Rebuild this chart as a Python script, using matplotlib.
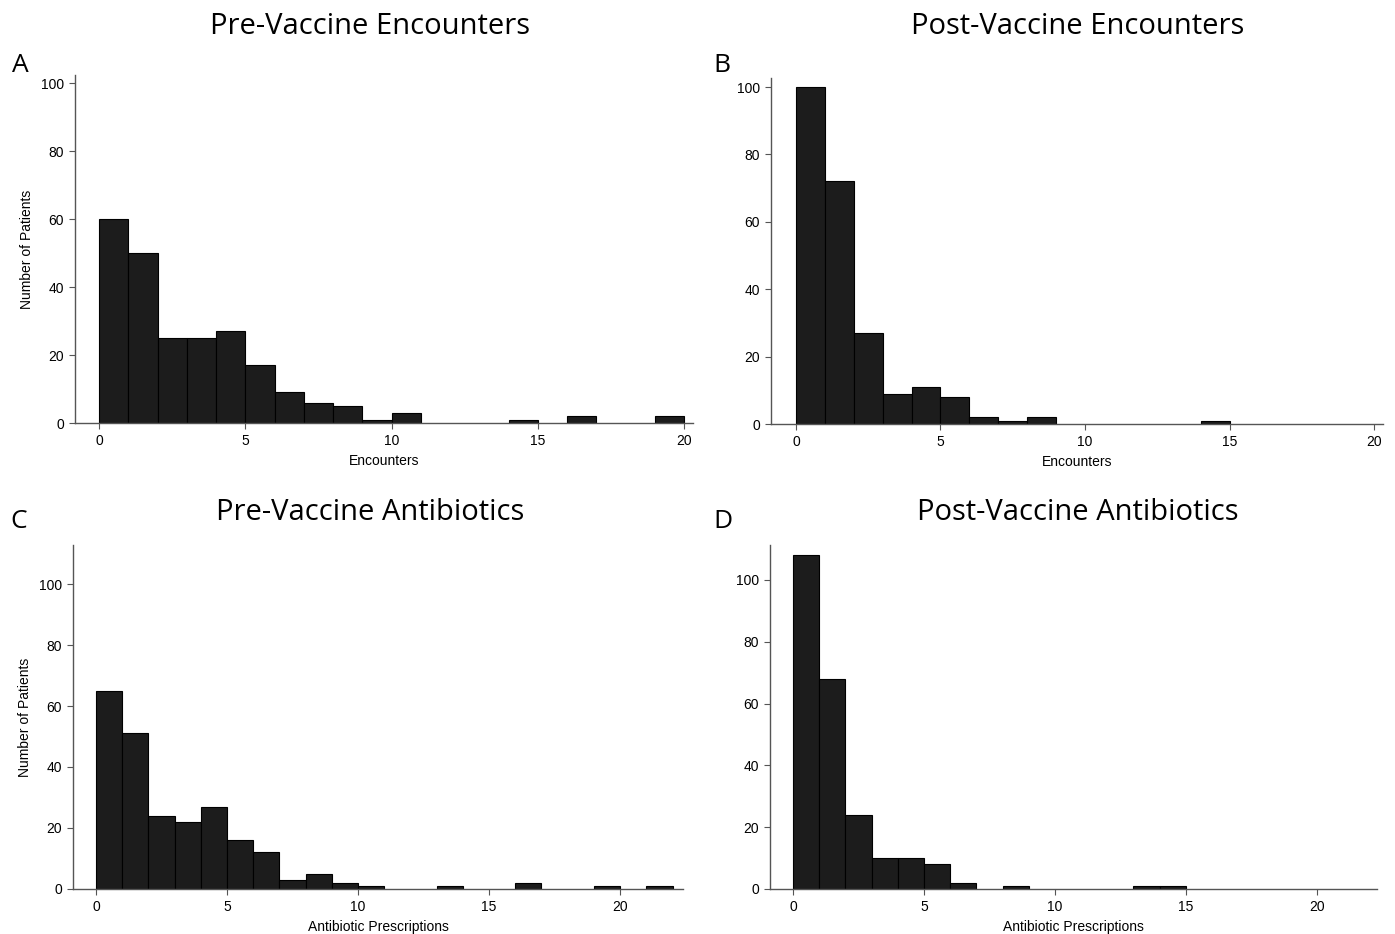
import matplotlib
matplotlib.use("Agg")
import matplotlib.pyplot as plt

# bin left edges (width 1) and counts
pre_enc_bins = [0, 1, 2, 3, 4, 5, 6, 7, 8, 9, 10, 14, 16, 19]
pre_enc_counts = [60, 50, 25, 25, 27, 17, 9, 6, 5, 1, 3, 1, 2, 2]

post_enc_bins = [0, 1, 2, 3, 4, 5, 6, 7, 8, 14]
post_enc_counts = [100, 72, 27, 9, 11, 8, 2, 1, 2, 1]

pre_abx_bins = [0, 1, 2, 3, 4, 5, 6, 7, 8, 9, 10, 13, 16, 19, 21]
pre_abx_counts = [65, 51, 24, 22, 27, 16, 12, 3, 5, 2, 1, 1, 2, 1, 1]

post_abx_bins = [0, 1, 2, 3, 4, 5, 6, 8, 13, 14]
post_abx_counts = [108, 68, 24, 10, 10, 8, 2, 1, 1, 1]

x_ticks = [0, 5, 10, 15, 20]
y_ticks = [0, 20, 40, 60, 80, 100]

title_font = ["Open Sans", "DejaVu Sans"]
tick_font = ["Liberation Sans", "DejaVu Sans"]

fig = plt.figure(figsize=(13.95, 9.34), dpi=100)

panels = [
    # rect, bins, counts, xlim, ylim, xlabel, ylabel, title, letter, title x, letter pos
    ([0.0538, 0.5471, 0.4430, 0.3726], pre_enc_bins, pre_enc_counts, (-0.82, 20.3), (0, 102.4),
     "Encounters", "Number of Patients", "Pre-Vaccine Encounters", "A", 370, (12, 65)),
    ([0.5527, 0.5460, 0.4387, 0.3705], post_enc_bins, post_enc_counts, (-0.86, 20.3), (0, 102.7),
     "Encounters", None, "Post-Vaccine Encounters", "B", 1078, (713, 65)),
    ([0.0523, 0.0482, 0.4373, 0.3683], pre_abx_bins, pre_abx_counts, (-0.88, 22.4), (0, 112.8),
     "Antibiotic Prescriptions", "Number of Patients", "Pre-Vaccine Antibiotics", "C", 370, (10, 522)),
    ([0.5520, 0.0482, 0.4351, 0.3683], post_abx_bins, post_abx_counts, (-0.88, 22.3), (0, 111.3),
     "Antibiotic Prescriptions", None, "Post-Vaccine Antibiotics", "D", 1078, (713, 522)),
]

W, H = 1395, 934
title_y = [26, 26, 513, 513]

for i, (rect, bins, counts, xlim, ylim, xlab, ylab, title, letter, tx, lpos) in enumerate(panels):
    ax = fig.add_axes(rect)
    ax.bar(bins, counts, width=1, align="edge", color="#1c1c1c",
           edgecolor="#000000", linewidth=0.8)
    ax.set_xlim(*xlim)
    ax.set_ylim(*ylim)
    ax.set_xticks(x_ticks)
    ax.set_yticks(y_ticks)
    for s in ["top", "right"]:
        ax.spines[s].set_visible(False)
    for s in ["left", "bottom"]:
        ax.spines[s].set_color("#555555")
        ax.spines[s].set_linewidth(1.0)
    ax.tick_params(direction="out", length=4, width=0.8, color="#555555",
                   labelsize=10, pad=4)
    for lab in ax.get_xticklabels() + ax.get_yticklabels():
        lab.set_family(tick_font)
    ax.set_xlabel(xlab, fontsize=10, family=tick_font, labelpad=4)
    if ylab:
        ax.set_ylabel(ylab, fontsize=10, family=tick_font, labelpad=5)
    fig.text(tx / W, 1 - title_y[i] / H, title, ha="center", va="center",
             fontsize=21, family=title_font)
    fig.text(lpos[0] / W, 1 - lpos[1] / H, letter, ha="left", va="center",
             fontsize=19, family=title_font)

fig.savefig("out.png", dpi=100)
